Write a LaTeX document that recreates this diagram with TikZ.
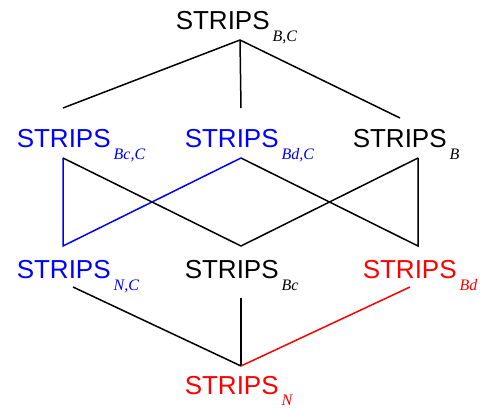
\documentclass[tikz,border=0pt]{standalone}
\usepackage{fontspec}
\setmainfont{Liberation Sans}
\newfontfamily\subfont{Liberation Serif}
\usepackage{tikz}

\newcommand{\strips}[1]{STRIPS\kern3pt\raisebox{-11.5pt}{\fontsize{16}{16}\selectfont\subfont\itshape #1}}

\begin{document}
\begin{tikzpicture}[x=1pt,y=-1pt,line width=1.5pt,
  lab/.style={anchor=base west,inner sep=0pt,font=\fontsize{26}{26}\selectfont}]

\useasboundingbox (0,0) rectangle (480,409);

% Top row
\node [lab] (bC) at (175,30) {\strips{B,C}};
\coordinate (bC-dn) at (240,40);

% Second row (left to right)
\node [lab,blue] (bcC) at (16,148) {\strips{Bc,C}};
\node [lab,blue] (bdC) at (184,148) {\strips{Bd,C}};
\node [lab] (b) at (352,148) {\strips{B}};
\coordinate (bcC-up) at (63,108);
\coordinate (bdC-up) at (241,108);
\coordinate (b-up) at (400,118);
\coordinate (bcC-dn) at (63,158);
\coordinate (bdC-dn) at (241,158);
\coordinate (b-dn) at (418,158);

% Third row (left to right)
\node [lab,blue] (nC) at (16,279) {\strips{N,C}};
\node [lab] (bc) at (184,279) {\strips{Bc}};
\node [lab,red] (bd) at (362,279) {\strips{Bd}};
\coordinate (nC-up) at (63,246);
\coordinate (bc-up) at (241,246);
\coordinate (bd-up) at (418,246);
\coordinate (nC-dn) at (73,287);
\coordinate (bc-dn) at (241,298);
\coordinate (bd-dn) at (410,287);

% Bottom row
\node [lab,red] (n) at (184,394) {\strips{N}};
\coordinate (n-up) at (241,366);

% Edges: top to second row
\draw (bC-dn) -- (bcC-up);
\draw (bC-dn) -- (bdC-up);
\draw (bC-dn) -- (b-up);

% Edges: second to third row
\draw[blue] (bcC-dn) -- (nC-up) -- (bdC-dn);
\draw (bcC-dn) -- (bc-up) -- (b-dn);
\draw (bdC-dn) -- (bd-up) -- (b-dn);

% Edges: third to bottom row
\draw (nC-dn) -- (n-up);
\draw (bc-dn) -- (n-up);
\draw[red] (bd-dn) -- (n-up);

\end{tikzpicture}
\end{document}
